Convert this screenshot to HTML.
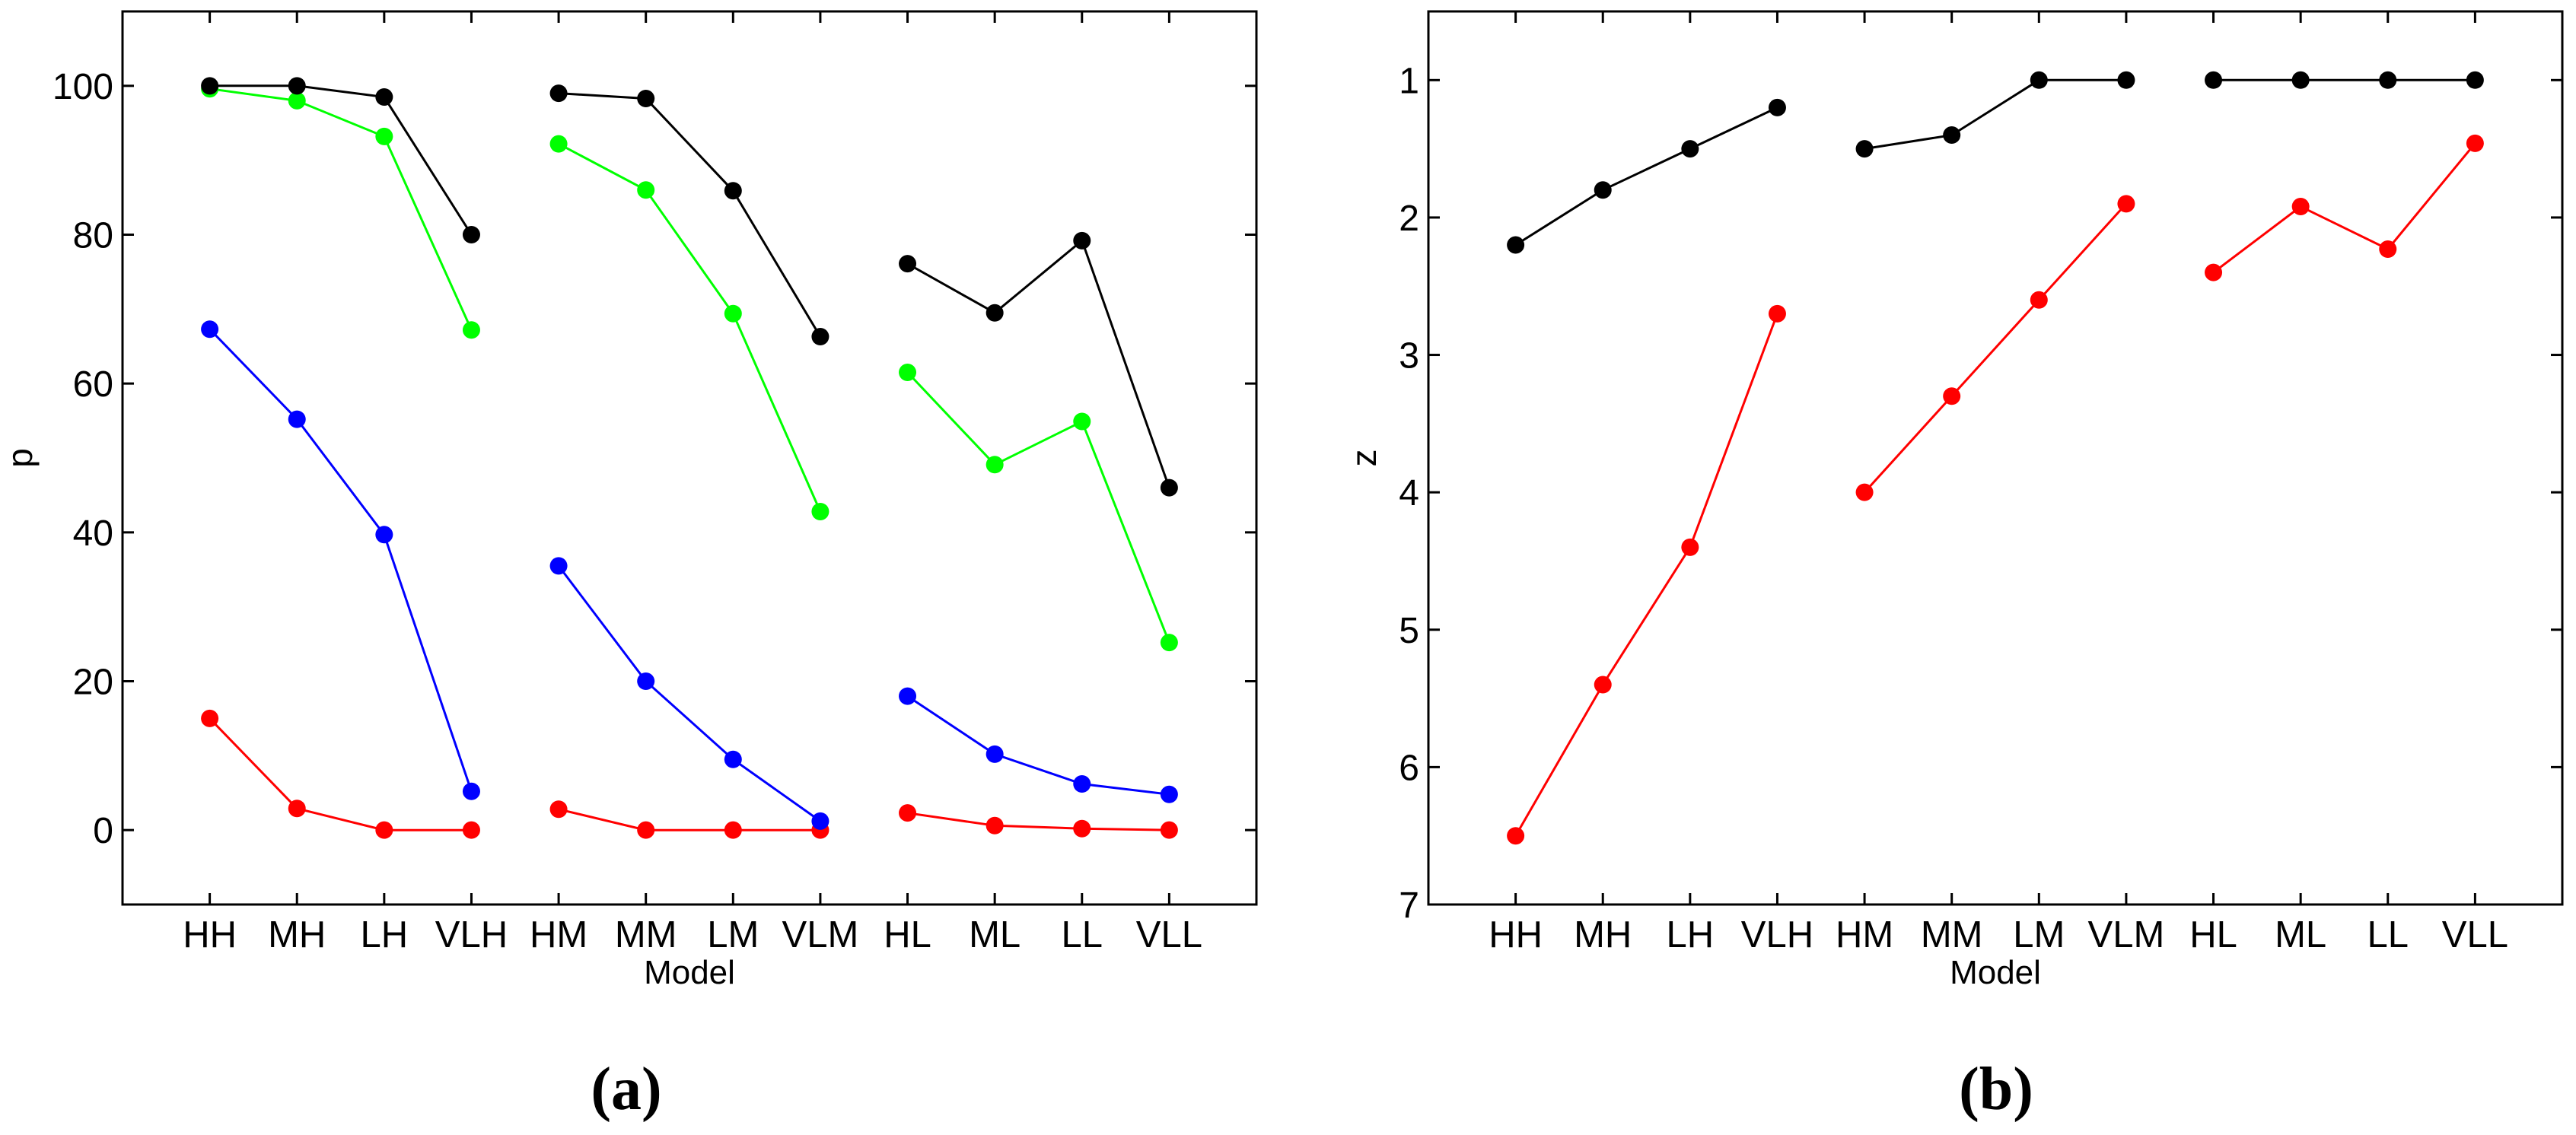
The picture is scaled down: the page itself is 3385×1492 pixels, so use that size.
<!DOCTYPE html>
<html><head><meta charset="utf-8">
<style>
html,body{margin:0;padding:0;background:#fff;}
svg{display:block;}
text{font-family:"Liberation Sans",Arial,sans-serif;fill:#000;}
</style></head>
<body>
<svg id="fig" width="3385" height="1492" viewBox="0 0 3385 1492" xmlns="http://www.w3.org/2000/svg"></svg>
<script>
const categories = ["HH","MH","LH","VLH","HM","MM","LM","VLM","HL","ML","LL","VLL"];
const pBlack = [100,100,98.5,80, 99,98.3,85.9,66.3, 76.1,69.5,79.2,46];
const pGreen = [99.6,98,93.2,67.2, 92.2,86,69.4,42.8, 61.5,49.1,54.9,25.2];
const pBlue  = [67.3,55.2,39.7,5.2, 35.5,20,9.5,1.2, 18,10.2,6.2,4.8];
const pRed   = [15,2.9,0,0, 2.8,0,0,0, 2.3,0.6,0.2,0];
const zBlack = [2.2,1.8,1.5,1.2, 1.5,1.4,1.0,1.0, 1,1,1,1];
const zRed   = [6.5,5.4,4.4,2.7, 4.0,3.3,2.6,1.9, 2.4,1.92,2.23,1.46];
const pTicks = [0,20,40,60,80,100];
const zTicks = [1,2,3,4,5,6,7];

const NS = "http://www.w3.org/2000/svg";
const svg = document.getElementById('fig');
function mk(tag, attrs, parent){
  const e = document.createElementNS(NS, tag);
  for (const k in attrs) e.setAttribute(k, attrs[k]);
  (parent||svg).appendChild(e);
  return e;
}

function panel(cfg){
  const g = mk('g', {});
  
  
  const L = cfg.left, R = cfg.left + 1490, T = 15, B = 1189;
  const xs = v => L + v * (R - L) / 13;
  const ys = cfg.reverse
    ? v => T + (v - cfg.ymin) * (B - T) / (cfg.ymax - cfg.ymin)
    : v => B - (v - cfg.ymin) * (B - T) / (cfg.ymax - cfg.ymin);
  const frame = mk('rect', {x:L, y:T, width:R-L, height:B-T, fill:'none', stroke:'#000', 'stroke-width':3}, g);
  
  
  // x ticks
  categories.forEach((c, i) => {
    const x = xs(i + 1);
    mk('line', {x1:x, y1:B, x2:x, y2:B-15, stroke:'#000', 'stroke-width':3}, g);
    mk('line', {x1:x, y1:T, x2:x, y2:T+15, stroke:'#000', 'stroke-width':3}, g);
    const t = mk('text', {x:x, y:1245, 'font-size':49, 'text-anchor':'middle'}, g);
    t.textContent = c;
    
    
  });
  // y ticks
  cfg.ticks.forEach(v => {
    const y = ys(v);
    mk('line', {x1:L, y1:y, x2:L+15, y2:y, stroke:'#000', 'stroke-width':3}, g);
    mk('line', {x1:R, y1:y, x2:R-15, y2:y, stroke:'#000', 'stroke-width':3}, g);
    const t = mk('text', {x:L-12, y:y+17, 'font-size':48, 'text-anchor':'end'}, g);
    t.textContent = v;
    
    
  });
  const xl = mk('text', {x:(L+R)/2, y:1293, 'font-size':44, 'text-anchor':'middle'}, g);
  xl.textContent = 'Model';
  
  
  const yl = mk('text', {x:0, y:0, 'font-size':46, 'text-anchor':'middle', transform:`translate(${cfg.ylabX},602) rotate(-90)`}, g);
  yl.textContent = cfg.ylabel;
  
  
  const cap = mk('text', {x:cfg.capX, y:1458, 'font-size':80, 'font-weight':'bold', 'text-anchor':'middle', style:'font-family:"Liberation Serif",serif'}, g);
  cap.textContent = cfg.caption;
  
  
  // series
  cfg.series.forEach(s => {
    const sg = mk('g', {}, g);
    
    
    for (let grp = 0; grp < 3; grp++) {
      const pts = [];
      for (let k = 0; k < 4; k++) {
        const i = grp*4 + k;
        pts.push(xs(i+1).toFixed(1) + ',' + ys(s.data[i]).toFixed(1));
      }
      const pl = mk('polyline', {points:pts.join(' '), fill:'none', stroke:s.color, 'stroke-width':3}, sg);
      
      
    }
    s.data.forEach((v, i) => {
      const c = mk('ellipse', {cx:xs(i+1), cy:ys(v), rx:11.5, ry:11.5, fill:s.color}, sg);
      
      
    });
  });
}

panel({name:'panel-a', left:161, ymin:-10, ymax:110, reverse:false, ticks:pTicks, ylabel:'p', ylabX:42, capX:823, caption:'(a)',
  series:[{name:'red-series',color:'#ff0000',data:pRed},{name:'blue-series',color:'#0000ff',data:pBlue},{name:'green-series',color:'#00ff00',data:pGreen},{name:'black-series',color:'#000000',data:pBlack}]});
panel({name:'panel-b', left:1877, ymin:0.5, ymax:7, reverse:true, ticks:zTicks, ylabel:'z', ylabX:1808, capX:2623, caption:'(b)',
  series:[{name:'red-series',color:'#ff0000',data:zRed},{name:'black-series',color:'#000000',data:zBlack}]});
</script>
</body></html>
